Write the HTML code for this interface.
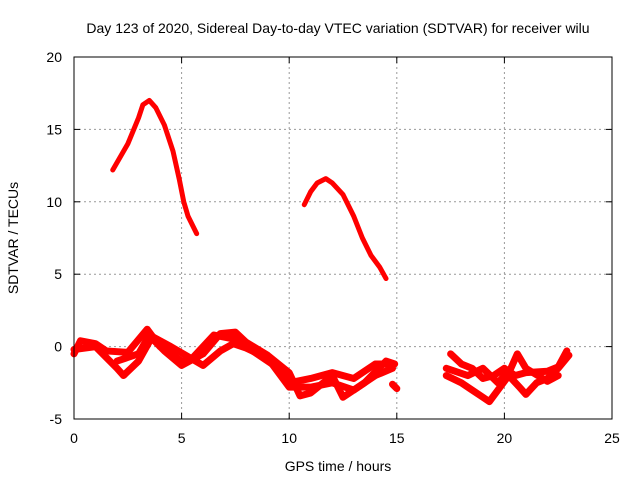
<!DOCTYPE html>
<html><head><meta charset="utf-8"><style>
body{margin:0;background:#fff}
text{font-family:"Liberation Sans",sans-serif;font-size:14px;fill:#000}
</style></head><body>
<svg id="chart" width="640" height="480">
<text x="338" y="33" text-anchor="middle">Day 123 of 2020, Sidereal Day-to-day VTEC variation (SDTVAR) for receiver wilu</text>
<text x="338" y="471" text-anchor="middle">GPS time / hours</text>
<text transform="translate(18,238) rotate(-90)" text-anchor="middle">SDTVAR / TECUs</text>
<g id="grid"></g><g id="axes"></g><g id="series"></g>
<rect x="74" y="57" width="538" height="362" fill="none" stroke="#000" stroke-width="1"/>
</svg>
<script>
const xTicks=[0,5,10,15,20,25];
const yTicks=[-5,0,5,10,15,20];
const arcA=[[1.8,12.2],[2.5,14],[3,15.8],[3.2,16.7],[3.5,17],[3.8,16.5],[4.2,15.3],[4.6,13.5],[4.9,11.5],[5.1,10],[5.3,9],[5.7,7.8]];
const arcB=[[10.7,9.8],[11,10.7],[11.3,11.3],[11.7,11.6],[12,11.3],[12.5,10.5],[13,9],[13.4,7.5],[13.8,6.3],[14.2,5.5],[14.5,4.7]];
const low1=[[0,-0.5],[0.3,0.4],[1,0.2],[1.5,-0.3],[2.5,-0.4],[3.4,1.2],[4,0],[5,-1],[5.5,-0.8],[6.5,0.8],[7.5,0.5],[8.5,-0.5],[9.5,-1.5],[10,-2.5],[11,-2.2],[12,-1.8],[13,-2.2],[14,-1.2],[14.8,-1.2]];
const low2=[[0,-0.2],[1,0],[2,-1.5],[2.3,-2],[3,-1],[3.6,0.6],[4.2,-0.3],[5,-1.3],[6,-0.5],[6.8,0.9],[7.5,1],[8,0.3],[9,-0.6],[10,-1.8],[10.5,-3.4],[11,-3.2],[12,-2],[12.5,-3.5],[13.5,-2.5],[14.5,-1],[14.9,-1.2]];
const low3=[[2,-1],[3,-0.5],[3.5,0.8],[4.5,0],[6,-1.3],[6.8,-0.3],[7.4,0.2],[8,-0.1],[9,-0.8],[10,-2.8],[11,-2.8],[12,-2.5],[13,-3],[14,-2],[14.8,-1.5]];
const low4=[[14.8,-2.6],[15,-2.9]];
const right1=[[17.5,-0.5],[18,-1.2],[18.5,-1.5],[19,-2.2],[19.5,-2],[20,-1.5],[20.5,-2],[21,-1.8],[22,-1.7],[22.5,-1.4],[22.9,-0.3]];
const right2=[[17.3,-2],[18,-2.5],[18.5,-3],[19,-3.5],[19.3,-3.8],[19.7,-3],[20.2,-2],[20.7,-2.8],[21,-3.3],[21.5,-2.5],[22,-2.2],[22.5,-1.5],[23,-0.6]];
const right3=[[17.3,-1.5],[18.3,-2],[19,-1.5],[19.7,-2.5],[20.3,-1.5],[20.6,-0.5],[21,-1.5],[22,-2.4],[22.5,-2]];
const seriesList=[arcA,arcB,low1,low2,low3,low4,right1,right2,right3];
const X0=74,X1=612,Y0=419,Y1=57;
const sx=v=>X0+(v-0)/(25-0)*(X1-X0);
const sy=v=>Y0-(v+5)/(25)*(Y0-Y1);
const NS="http://www.w3.org/2000/svg";
const grid=document.getElementById('grid'),axes=document.getElementById('axes'),ser=document.getElementById('series');
function mk(t,a,p){const e=document.createElementNS(NS,t);for(const k in a)e.setAttribute(k,a[k]);p.appendChild(e);return e;}
xTicks.forEach(t=>{const x=sx(t);
 if(t>0&&t<25){const g=mk('line',{x1:x,x2:x,y1:Y0,y2:Y1,stroke:'#999','stroke-dasharray':'2,3'},grid);
 
 }
 mk('line',{x1:x,x2:x,y1:Y0,y2:Y0-6,stroke:'#000'},axes);
 mk('line',{x1:x,x2:x,y1:Y1,y2:Y1+6,stroke:'#000'},axes);
 const l=mk('text',{x:x,y:443,'text-anchor':'middle'},axes);l.textContent=t;
 
 
});
yTicks.forEach(t=>{const y=sy(t);
 if(t>-5&&t<20){const g=mk('line',{x1:X0,x2:X1,y1:y,y2:y,stroke:'#999','stroke-dasharray':'2,3'},grid);
 
 }
 mk('line',{x1:X0,x2:X0+6,y1:y,y2:y,stroke:'#000'},axes);
 mk('line',{x1:X1,x2:X1-6,y1:y,y2:y,stroke:'#000'},axes);
 const l=mk('text',{x:62,y:y+5,'text-anchor':'end'},axes);l.textContent=t;
 
 
});
seriesList.forEach((s,i)=>{
 const p=mk('polyline',{points:s.map(d=>sx(d[0])+','+sy(d[1])).join(' '),fill:'none',stroke:'#f00','stroke-width':(i<2?5:7),'stroke-linejoin':'round','stroke-linecap':'round'},ser);
 
 
});
</script>
</body></html>
